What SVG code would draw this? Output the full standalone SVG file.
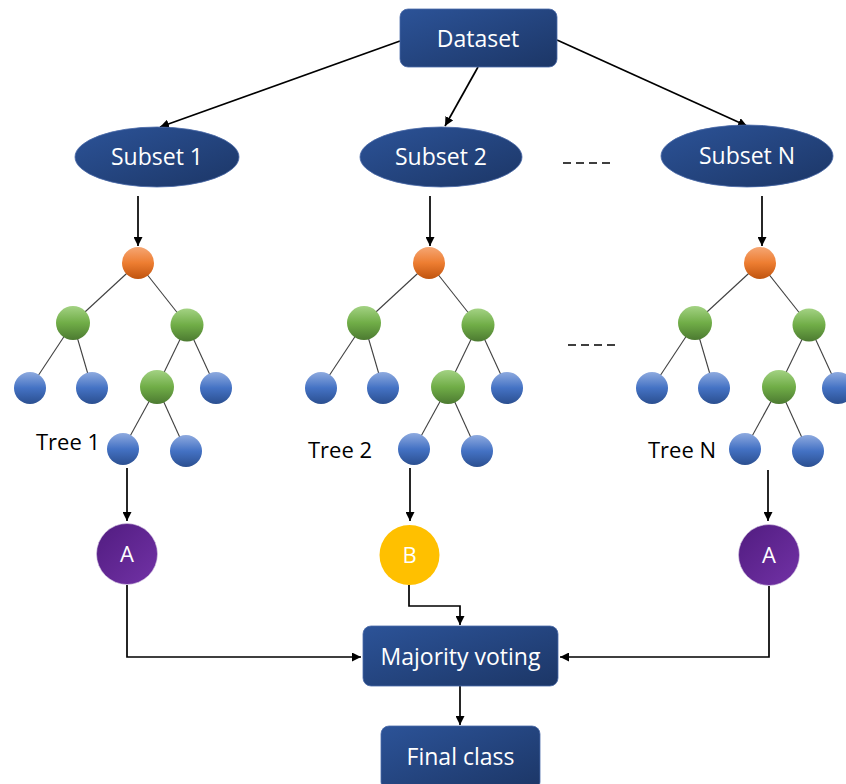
<svg xmlns="http://www.w3.org/2000/svg" width="846" height="784" viewBox="0 0 846 784">
<defs>
<linearGradient id="gBox" x1="0" y1="0" x2="1" y2="1"><stop offset="0" stop-color="#2c5398"/><stop offset="1" stop-color="#1c3666"/></linearGradient>
<linearGradient id="gOr" x1="0" y1="0" x2="0" y2="1"><stop offset="0" stop-color="#f5a673"/><stop offset="0.5" stop-color="#ed7d31"/><stop offset="1" stop-color="#c0540f"/></linearGradient>
<linearGradient id="gGr" x1="0" y1="0" x2="0" y2="1"><stop offset="0" stop-color="#a3d283"/><stop offset="0.5" stop-color="#70ad47"/><stop offset="1" stop-color="#4c7a31"/></linearGradient>
<linearGradient id="gBl" x1="0" y1="0" x2="0" y2="1"><stop offset="0" stop-color="#8eaadf"/><stop offset="0.5" stop-color="#4472c4"/><stop offset="1" stop-color="#2b4f90"/></linearGradient>
<linearGradient id="gPu" x1="0" y1="0" x2="1" y2="1"><stop offset="0" stop-color="#511c80"/><stop offset="1" stop-color="#7232a6"/></linearGradient>
<marker id="arr" viewBox="0 0 10 10" refX="10" refY="5" markerWidth="9" markerHeight="9" markerUnits="userSpaceOnUse" orient="auto"><path d="M0,0 L10,5 L0,10 z" fill="#000"/></marker>
</defs>
<style>
.box{fill:url(#gBox);stroke:#4a6aa8;stroke-width:0.8}
.bt{font-family:"Open Sans","Liberation Sans",sans-serif;font-size:23px;fill:#fff;text-anchor:middle}
.vt{font-family:"Open Sans","Liberation Sans",sans-serif;font-size:22px;fill:#fff;text-anchor:middle}
.lbl{font-family:"Open Sans","Liberation Sans",sans-serif;font-size:22px;fill:#000}
.con{fill:none;stroke:#000;stroke-width:1.7}
.arrow{marker-end:url(#arr)}
.te{stroke:#404040;stroke-width:1.1}
.o{fill:url(#gOr)}
.g{fill:url(#gGr)}
.b{fill:url(#gBl)}
.dash{stroke:#000;stroke-width:1.6;stroke-dasharray:8 5}
</style>
<rect width="846" height="784" fill="#fff"/>

<g id="connectors">
<line class="con arrow" x1="400" y1="41" x2="160" y2="127"/>
<line class="con arrow" x1="478" y1="67" x2="445" y2="126"/>
<line class="con arrow" x1="557" y1="40" x2="747" y2="126"/>
<line class="con arrow" x1="138" y1="196" x2="138" y2="246"/>
<line class="con arrow" x1="430" y1="196" x2="430" y2="246"/>
<line class="con arrow" x1="762" y1="196" x2="762" y2="246"/>
<line class="con arrow" x1="127" y1="468" x2="127" y2="521"/>
<line class="con arrow" x1="410" y1="468" x2="410" y2="521"/>
<line class="con arrow" x1="768" y1="470" x2="768" y2="521"/>
<path class="con arrow" d="M127,585 V657 H361"/>
<path class="con arrow" d="M409,585 V606 H460 V625"/>
<path class="con arrow" d="M769,586 V657 H560"/>
<path class="con arrow" d="M460,686 V725"/>
<line class="dash" x1="563" y1="163" x2="610" y2="163"/>
<line class="dash" x1="568" y1="345" x2="615" y2="345"/>
</g>

<g id="dataset"><rect class="box" x="400" y="9" width="157" height="58" rx="8"/><text class="bt" x="478" y="47">Dataset</text></g>
<g id="subset1"><ellipse class="box" cx="157" cy="157" rx="82" ry="30"/><text class="bt" x="157" y="165">Subset 1</text></g>
<g id="subset2"><ellipse class="box" cx="441" cy="157" rx="81" ry="30"/><text class="bt" x="441" y="165">Subset 2</text></g>
<g id="subsetN"><ellipse class="box" cx="747" cy="156" rx="86" ry="31"/><text class="bt" x="747" y="164">Subset N</text></g>

<g id="tree1" transform="translate(138,263)">
<g class="te"><line x1="0" y1="0" x2="-65" y2="60"/><line x1="0" y1="0" x2="49" y2="62"/><line x1="-65" y1="60" x2="-108" y2="125"/><line x1="-65" y1="60" x2="-46" y2="125"/><line x1="49" y1="62" x2="19" y2="124"/><line x1="49" y1="62" x2="78" y2="125"/><line x1="19" y1="124" x2="-15" y2="186"/><line x1="19" y1="124" x2="48" y2="188"/></g>
<g id="t1-root"><circle class="o" cx="0" cy="0" r="16"/></g>
<g id="t1-g1"><circle class="g" cx="-65" cy="60" r="17"/></g>
<g id="t1-g2"><circle class="g" cx="49" cy="62" r="16.5"/></g>
<g id="t1-l1"><circle class="b" cx="-108" cy="125" r="16"/></g>
<g id="t1-l2"><circle class="b" cx="-46" cy="125" r="16"/></g>
<g id="t1-g3"><circle class="g" cx="19" cy="124" r="17"/></g>
<g id="t1-l3"><circle class="b" cx="78" cy="125" r="16"/></g>
<g id="t1-l4"><circle class="b" cx="-15" cy="186" r="16"/></g>
<g id="t1-l5"><circle class="b" cx="48" cy="188" r="16"/></g>
</g>
<g id="tree1-label"><text class="lbl" x="36" y="450">Tree 1</text></g>

<g id="tree2" transform="translate(429,263)">
<g class="te"><line x1="0" y1="0" x2="-65" y2="60"/><line x1="0" y1="0" x2="49" y2="62"/><line x1="-65" y1="60" x2="-108" y2="125"/><line x1="-65" y1="60" x2="-46" y2="125"/><line x1="49" y1="62" x2="19" y2="124"/><line x1="49" y1="62" x2="78" y2="125"/><line x1="19" y1="124" x2="-15" y2="186"/><line x1="19" y1="124" x2="48" y2="188"/></g>
<g id="t2-root"><circle class="o" cx="0" cy="0" r="16"/></g>
<g id="t2-g1"><circle class="g" cx="-65" cy="60" r="17"/></g>
<g id="t2-g2"><circle class="g" cx="49" cy="62" r="16.5"/></g>
<g id="t2-l1"><circle class="b" cx="-108" cy="125" r="16"/></g>
<g id="t2-l2"><circle class="b" cx="-46" cy="125" r="16"/></g>
<g id="t2-g3"><circle class="g" cx="19" cy="124" r="17"/></g>
<g id="t2-l3"><circle class="b" cx="78" cy="125" r="16"/></g>
<g id="t2-l4"><circle class="b" cx="-15" cy="186" r="16"/></g>
<g id="t2-l5"><circle class="b" cx="48" cy="188" r="16"/></g>
</g>
<g id="tree2-label"><text class="lbl" x="308" y="458">Tree 2</text></g>

<g id="treeN" transform="translate(760,263)">
<g class="te"><line x1="0" y1="0" x2="-65" y2="60"/><line x1="0" y1="0" x2="49" y2="62"/><line x1="-65" y1="60" x2="-108" y2="125"/><line x1="-65" y1="60" x2="-46" y2="125"/><line x1="49" y1="62" x2="19" y2="124"/><line x1="49" y1="62" x2="78" y2="125"/><line x1="19" y1="124" x2="-15" y2="186"/><line x1="19" y1="124" x2="48" y2="188"/></g>
<g id="tN-root"><circle class="o" cx="0" cy="0" r="16"/></g>
<g id="tN-g1"><circle class="g" cx="-65" cy="60" r="17"/></g>
<g id="tN-g2"><circle class="g" cx="49" cy="62" r="16.5"/></g>
<g id="tN-l1"><circle class="b" cx="-108" cy="125" r="16"/></g>
<g id="tN-l2"><circle class="b" cx="-46" cy="125" r="16"/></g>
<g id="tN-g3"><circle class="g" cx="19" cy="124" r="17"/></g>
<g id="tN-l3"><circle class="b" cx="78" cy="125" r="16"/></g>
<g id="tN-l4"><circle class="b" cx="-15" cy="186" r="16"/></g>
<g id="tN-l5"><circle class="b" cx="48" cy="188" r="16"/></g>
</g>
<g id="treeN-label"><text class="lbl" x="648" y="458">Tree N</text></g>

<g id="vote1"><circle cx="127" cy="554" r="30.5" fill="url(#gPu)" stroke="#d9cce6" stroke-width="0.6"/><text class="vt" x="127" y="562">A</text></g>
<g id="vote2"><circle cx="409.5" cy="555" r="30" fill="#ffc000"/><text class="vt" x="409.5" y="563">B</text></g>
<g id="voteN"><circle cx="769" cy="555" r="30.5" fill="url(#gPu)" stroke="#d9cce6" stroke-width="0.6"/><text class="vt" x="769" y="563">A</text></g>

<g id="majority"><rect class="box" x="363" y="626" width="195" height="60" rx="8"/><text class="bt" x="460.5" y="665">Majority voting</text></g>
<g id="final"><rect class="box" x="381" y="726" width="159" height="64" rx="8"/><text class="bt" x="460.5" y="765">Final class</text></g>
</svg>
